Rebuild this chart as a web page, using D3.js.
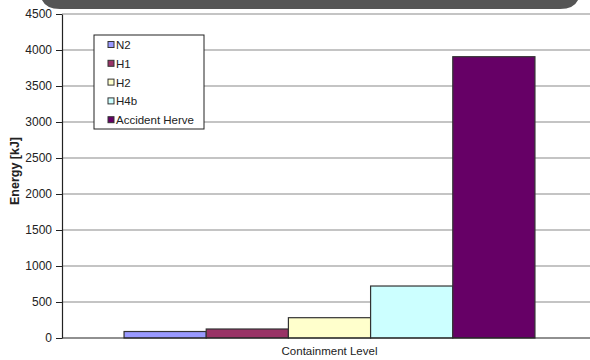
<!DOCTYPE html>
<html>
<head>
<meta charset="utf-8">
<script src="https://cdn.jsdelivr.net/npm/d3@7"></script>
<style>
  body { margin: 0; background: #fff; }
  svg { display: block; font-family: Arial, "Liberation Sans", sans-serif; }
</style>
</head>
<body>
<svg id="chart" width="590" height="360"></svg>
<script>
// data
const category = ['Containment Level'];
const series = ['N2', 'H1', 'H2', 'H4b', 'Accident Herve'];
const values = [90, 125, 282, 722, 3907];
const colors = ['#9999ff', '#993366', '#ffffcc', '#ccffff', '#660066'];
const yTicks = [0, 500, 1000, 1500, 2000, 2500, 3000, 3500, 4000, 4500];

const svg = d3.select('#chart');
const margin = { top: 14, right: -7, bottom: 22, left: 62 };
const width = +svg.attr('width') - margin.left - margin.right;
const height = +svg.attr('height') - margin.top - margin.bottom;

// dark banner at top
svg.append('path')
    .attr('d', 'M40,0 H580 V-10 Q580,9 560,9 H60 Q40,9 40,-10 Z')
    .attr('fill', '#555');

const g = svg.append('g').attr('transform', `translate(${margin.left},${margin.top})`);

const y = d3.scaleLinear().domain([0, 4500]).range([height, 0]);
const x0 = d3.scaleBand().domain(category).range([0, width]).paddingOuter(0.151).paddingInner(0);
const x1 = d3.scaleBand().domain(series).range([0, x0.bandwidth()]);

// gridlines
g.append('g')
    .selectAll('line')
    .data(yTicks.filter(d => d > 0))
    .enter().append('line')
    .attr('x1', 0)
    .attr('x2', width)
    .attr('y1', d => y(d))
    .attr('y2', d => y(d))
    .attr('stroke', '#8a8a8a')
    .attr('stroke-width', 1.2);

// bars
g.append('g')
    .selectAll('rect')
    .data(series.map((s, i) => ({ s, v: values[i], c: colors[i] })))
    .enter().append('rect')
    .attr('x', d => x0(category[0]) + x1(d.s))
    .attr('y', d => y(d.v))
    .attr('width', x1.bandwidth())
    .attr('height', d => y(0) - y(d.v))
    .attr('fill', d => d.c)
    .attr('stroke', '#333')
    .attr('stroke-width', 1.2);

// y axis
const yAxis = g.append('g')
    .call(d3.axisLeft(y).tickValues(yTicks).tickFormat(d3.format('d'))
        .tickSize(6).tickSizeOuter(0).tickPadding(4));
yAxis.select('.domain').attr('stroke', '#222').attr('stroke-width', 1.2);
yAxis.selectAll('line').attr('stroke', '#222');
yAxis.selectAll('text').attr('font-size', 12).attr('fill', '#222');

// x axis line
g.append('line')
    .attr('x1', 0)
    .attr('x2', width)
    .attr('y1', height)
    .attr('y2', height)
    .attr('stroke', '#222')
    .attr('stroke-width', 1.2);

// axis titles
svg.append('text')
    .attr('transform', `translate(19,${margin.top + height / 2 - 5}) rotate(-90)`)
    .attr('text-anchor', 'middle')
    .attr('font-size', 12.5)
    .attr('font-weight', 'bold')
    .attr('fill', '#222')
    .text('Energy [kJ]');

svg.append('text')
    .attr('x', margin.left + x0(category[0]) + x0.bandwidth() / 2)
    .attr('y', 355)
    .attr('text-anchor', 'middle')
    .attr('font-size', 11.5)
    .attr('fill', '#222')
    .text(category[0]);

// legend
const legend = svg.append('g').attr('transform', 'translate(94,35)');
legend.append('rect')
    .attr('width', 110)
    .attr('height', 94)
    .attr('fill', '#fff')
    .attr('stroke', '#222')
    .attr('stroke-width', 1);

const item = legend.selectAll('g.item')
    .data(series)
    .enter().append('g')
    .attr('class', 'item')
    .attr('transform', (d, i) => `translate(14,${10 + i * 18.8})`);

item.append('rect')
    .attr('x', 0)
    .attr('y', -3.5)
    .attr('width', 6)
    .attr('height', 6)
    .attr('fill', (d, i) => colors[i])
    .attr('stroke', '#333')
    .attr('stroke-width', 1);

item.append('text')
    .attr('x', 8)
    .attr('y', 4)
    .attr('font-size', 11.5)
    .attr('fill', '#222')
    .text(d => d);
</script>
</body>
</html>
